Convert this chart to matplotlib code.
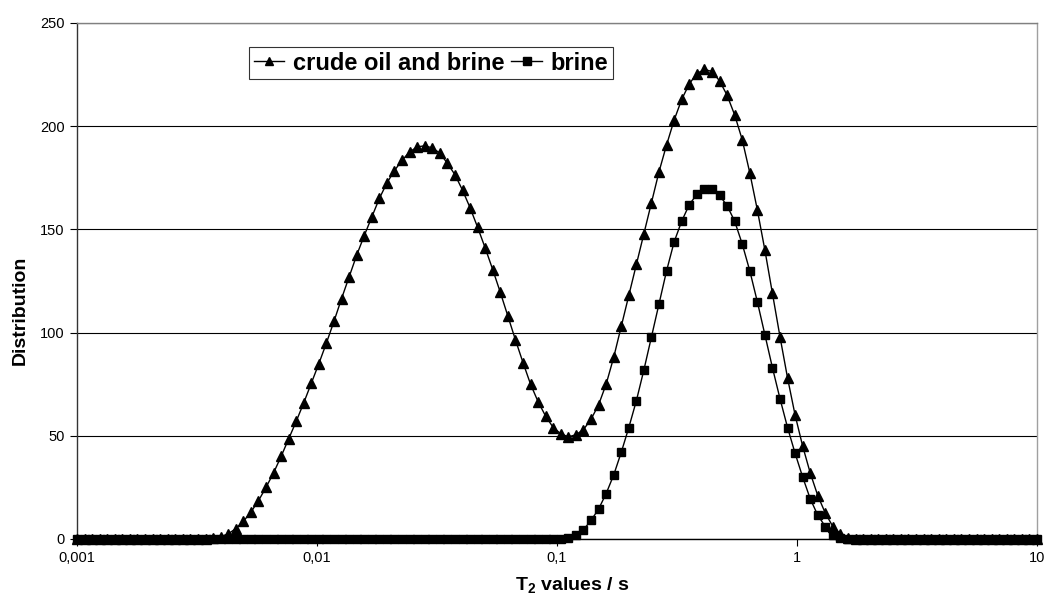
import numpy as np
import matplotlib
matplotlib.use("Agg")
from matplotlib import pyplot as plt
from matplotlib.ticker import FixedLocator, FixedFormatter

# T2 grid: 128 log-spaced points from 0.001 s to 10 s
t2 = np.logspace(-3, 1, 128)

crude_oil_brine = [
    0, 0, 0, 0, 0, 0, 0, 0, 0, 0, 0, 0, 0, 0, 0, 0,
    0, 0, 0.5, 1, 2.5, 5, 8.5, 13, 18.5, 25, 32, 40, 48.5, 57, 66, 75.5,
    85, 95, 105.5, 116.5, 127, 137.5, 147, 156, 165, 172.5, 178.5, 183.5, 187.5, 190, 190.5, 189.5,
    187, 182, 176.5, 169, 160.5, 151, 141, 130.5, 119.5, 108, 96.5, 85.5, 75, 66.5, 59.5, 54,
    51, 49.5, 50.5, 53, 58, 65, 75, 88, 103, 118, 133, 148, 163, 178, 191, 203,
    213, 220.5, 225.5, 227.5, 226.5, 222, 215, 205.5, 193.5, 177.5, 159.5, 140, 119, 98, 78, 60,
    45, 32, 21, 12.5, 6, 2.5, 0.7, 0, 0, 0, 0, 0, 0, 0, 0, 0,
    0, 0, 0, 0, 0, 0, 0, 0, 0, 0, 0, 0, 0, 0, 0, 0,
]

brine = [
    0, 0, 0, 0, 0, 0, 0, 0, 0, 0, 0, 0, 0, 0, 0, 0,
    0, 0, 0, 0, 0, 0, 0, 0, 0, 0, 0, 0, 0, 0, 0, 0,
    0, 0, 0, 0, 0, 0, 0, 0, 0, 0, 0, 0, 0, 0, 0, 0,
    0, 0, 0, 0, 0, 0, 0, 0, 0, 0, 0, 0, 0, 0, 0, 0,
    0, 0.5, 2, 4.5, 9, 14.5, 22, 31, 42, 54, 67, 82, 98, 114, 130, 144,
    154, 162, 167, 169.5, 169.5, 166.5, 161.5, 154, 143, 130, 115, 99, 83, 68, 54, 41.5,
    30, 19.5, 11.5, 6, 2, 0.5, 0, 0, 0, 0, 0, 0, 0, 0, 0, 0,
    0, 0, 0, 0, 0, 0, 0, 0, 0, 0, 0, 0, 0, 0, 0, 0,
]

xticks = [0.001, 0.01, 0.1, 1, 10]
xticklabels = ["0,001", "0,01", "0,1", "1", "10"]
yticks = [0, 50, 100, 150, 200, 250]

plt.rcParams["font.family"] = ["Liberation Sans", "DejaVu Sans"]
plt.rcParams["mathtext.fontset"] = "custom"
plt.rcParams["mathtext.rm"] = "Liberation Sans"
plt.rcParams["mathtext.bf"] = "Liberation Sans:bold"

fig = plt.figure(figsize=(10.45, 6.01), dpi=100)
ax = fig.add_axes([77 / 1045, 1 - 539 / 601, 960 / 1045, 516 / 601])

ax.plot(t2, crude_oil_brine, color="black", lw=1.0, marker="^", ms=6.5,
        label="crude oil and brine", clip_on=False, zorder=3)
ax.plot(t2, brine, color="black", lw=1.0, marker="s", ms=5.8,
        label="brine", clip_on=False, zorder=4)

ax.set_xscale("log")
ax.set_xlim(0.001, 10)
ax.set_ylim(0, 250)
ax.xaxis.set_major_locator(FixedLocator(xticks))
ax.xaxis.set_major_formatter(FixedFormatter(xticklabels))
ax.xaxis.set_minor_locator(FixedLocator([]))
ax.set_yticks(yticks)
ax.tick_params(axis="both", direction="out", length=5, width=0.8,
               labelsize=10.5, color="black", pad=4)

ax.yaxis.grid(True, color="black", lw=0.8)
ax.set_axisbelow(True)
ax.spines["left"].set_color("#333333")
ax.spines["bottom"].set_color("black")
ax.spines["top"].set_color("#808080")
ax.spines["right"].set_color("#a0a0a0")
for s in ax.spines.values():
    s.set_linewidth(1.0)

ax.set_ylabel("Distribution", fontsize=14, fontweight="bold", va="center")
ax.yaxis.set_label_coords((20 - 77) / 960, (539 - 310) / 516)
ax.set_xlabel(r"$\mathbf{T_2}$ values / s", fontsize=14, fontweight="bold", va="center")
ax.xaxis.set_label_coords((572 - 77) / 960, (539 - 585) / 516)

leg = ax.legend(loc="upper left", bbox_to_anchor=(249 / 1045, 1 - 47 / 601),
                bbox_transform=fig.transFigure, ncol=2, frameon=True, fancybox=False,
                shadow=False, edgecolor="black", borderpad=0.2, handlelength=1.3,
                handletextpad=0.35, columnspacing=0.3, borderaxespad=0,
                prop={"weight": "bold", "size": 17})
leg.get_frame().set_linewidth(0.8)
for h in leg.legend_handles:
    h.set_markersize(6)

plt.savefig("out.png", dpi=100)
